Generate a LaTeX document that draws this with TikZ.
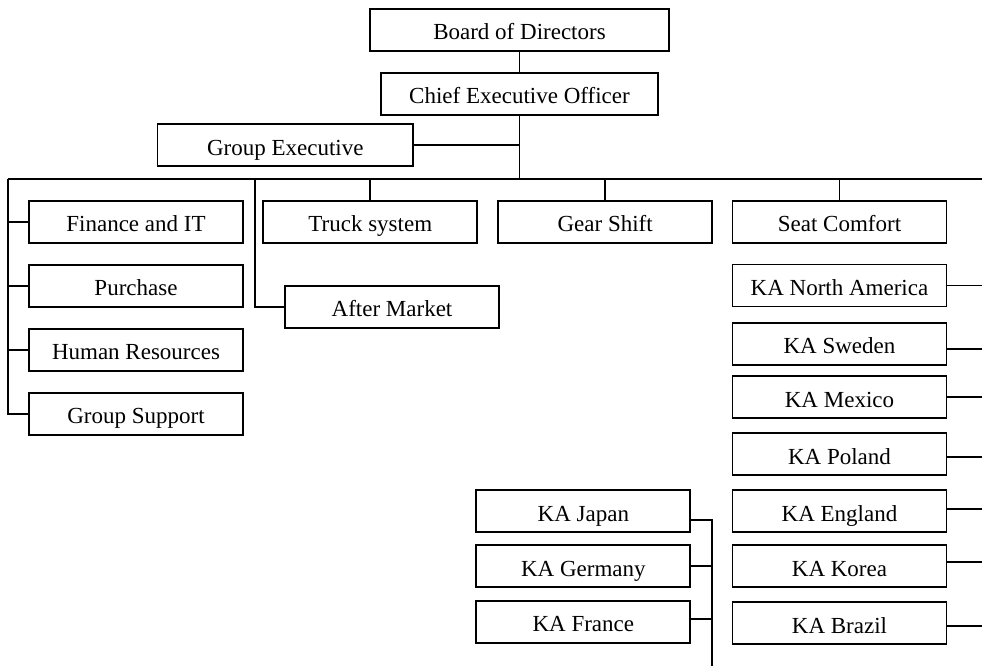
\documentclass[tikz,border=0pt]{standalone}
\usepackage{fontspec}
\setmainfont{Liberation Serif}
\begin{document}
\begin{tikzpicture}[x=0.5pt,y=-0.5pt,
  orgbox/.style={draw, line width=0.9pt, rectangle, inner sep=0pt,
    minimum width=107pt, minimum height=21pt,
    text height=10pt, text depth=0pt,
    font=\fontsize{11.5}{13}\selectfont},
  link/.style={line width=0.9pt}]
\useasboundingbox (0,0) rectangle (982,666);

% top of the hierarchy
\node[orgbox, minimum width=149.5pt] (bod) at (519.5,29.75) {Board of Directors};
\node[orgbox, minimum width=138.5pt] (ceo) at (519.5,93.75) {Chief Executive Officer};
\node[orgbox, minimum width=127.75pt] (ge) at (285.25,145.25) {Group Executive};

% staff functions
\node[orgbox] (fin) at (136,221.7) {Finance and IT};
\node[orgbox] (pur) at (136,285.7) {Purchase};
\node[orgbox] (hr)  at (136,349.85) {Human Resources};
\node[orgbox] (gs)  at (136,413.85) {Group Support};

% business areas
\node[orgbox] (truck) at (370.3,221.7) {Truck system};
\node[orgbox] (am)    at (392,306.85) {After Market};
\node[orgbox] (gear)  at (605.15,221.7) {Gear Shift};
\node[orgbox] (seat)  at (839.5,221.7) {Seat Comfort};

% regional units, right column
\node[orgbox] (na)  at (839.5,285.5)  {KA North America};
\node[orgbox] (swe) at (839.5,343.85) {KA Sweden};
\node[orgbox] (mex) at (839.5,397.35) {KA Mexico};
\node[orgbox] (pol) at (839.5,454.3)  {KA Poland};
\node[orgbox] (eng) at (839.5,511.15) {KA England};
\node[orgbox] (kor) at (839.5,566.15) {KA Korea};
\node[orgbox] (bra) at (839.5,623)    {KA Brazil};

% regional units, left column
\node[orgbox] (jap) at (583.35,511.15) {KA Japan};
\node[orgbox] (ger) at (583.35,566.15) {KA Germany};
\node[orgbox] (fra) at (583.35,621.7)  {KA France};

% routing points
\coordinate (busL) at (7.7,179);
\coordinate (busR) at (982,179);
\coordinate (amTop) at (255,179);
\coordinate (redge) at (982,0);
\coordinate (jbot) at (711.7,666);

% connectors
\draw[link] (bod.south) -- (ceo.north);
\draw[link] (ceo.south) -- (ceo.south |- busL);
\draw[link] (ge.east) -- (ge.east -| ceo.south);
\draw[link] (busL) -- (busR);

\draw[link] (busL) |- (gs.west);
\foreach \n in {fin,pur,hr}
  \draw[link] (busL |- \n.west) -- (\n.west);

\draw[link] (amTop) |- (am.west);
\foreach \n in {truck,gear,seat}
  \draw[link] (\n.north) -- (\n.north |- busL);

\draw[link] (na.east) -- (na.east -| redge);
\draw[link] ([yshift=-2.5pt]swe.east) -- ([yshift=-2.5pt]swe.east -| redge);
\draw[link] (mex.east) -- (mex.east -| redge);
\draw[link] ([yshift=-1.5pt]pol.east) -- ([yshift=-1.5pt]pol.east -| redge);
\draw[link] ([yshift=1pt]eng.east) -- ([yshift=1pt]eng.east -| redge);
\draw[link] ([yshift=2.2pt]kor.east) -- ([yshift=2.2pt]kor.east -| redge);
\draw[link] ([yshift=-1.5pt]bra.east) -- ([yshift=-1.5pt]bra.east -| redge);

\draw[link] ([yshift=-4.5pt]jap.east) -| (jbot);
\draw[link] (ger.east) -- (ger.east -| jbot);
\draw[link] ([yshift=1.2pt]fra.east) -- ([yshift=1.2pt]fra.east -| jbot);
\end{tikzpicture}
\end{document}
